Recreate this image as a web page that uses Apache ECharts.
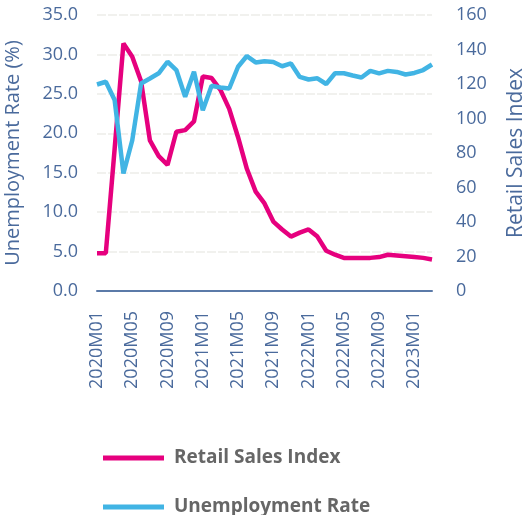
<!DOCTYPE html>
<html>
<head>
<meta charset="utf-8">
<script src="https://cdn.jsdelivr.net/npm/echarts@6/dist/echarts.min.js"></script>
<style>
html,body{margin:0;padding:0;background:#fff;}
#c{width:522px;height:515px;}
</style>
</head>
<body>
<div id="c"></div>
<script>
const categories = [
  "2020M01","2020M02","2020M03","2020M04","2020M05","2020M06","2020M07","2020M08","2020M09","2020M10","2020M11","2020M12",
  "2021M01","2021M02","2021M03","2021M04","2021M05","2021M06","2021M07","2021M08","2021M09","2021M10","2021M11","2021M12",
  "2022M01","2022M02","2022M03","2022M04","2022M05","2022M06","2022M07","2022M08","2022M09","2022M10","2022M11","2022M12",
  "2023M01","2023M02","2023M03"
];
const retailSalesIndex = [
  4.8, 4.8, 18.0, 31.4, 29.7, 26.6, 19.1, 17.1, 16.0, 20.2, 20.4, 21.5,
  27.2, 27.0, 25.5, 23.1, 19.5, 15.5, 12.6, 11.1, 8.8, 7.8, 6.9, 7.4,
  7.8, 6.9, 5.1, 4.6, 4.2, 4.2, 4.2, 4.2, 4.3, 4.6, 4.5, 4.4,
  4.3, 4.2, 4.0
];
const unemploymentRate = [
  119.7, 121.3, 110.7, 68.1, 87.4, 120.3, 123.2, 126.2, 132.9, 128.1, 112.6, 127.1,
  104.8, 119.0, 118.0, 117.4, 130.0, 136.2, 132.5, 133.2, 132.8, 130.3, 131.9, 124.1,
  122.6, 123.3, 120.0, 126.2, 126.2, 124.9, 123.8, 127.6, 126.2, 127.6, 127.0, 125.5,
  126.4, 128.1, 131.3
];
const leftTicks = { min: 0, max: 35, interval: 5 };
const rightTicks = { min: 0, max: 160, interval: 20 };

const axisColor = '#4a6a9c';
const font = "'Open Sans', 'Noto Sans', sans-serif";
const legendText = { fontFamily: font, fontSize: 19, fontWeight: 'bold', color: '#666666', lineHeight: 22, padding: [0, 0, 0, 5] };
const chart = echarts.init(document.getElementById('c'), null, { renderer: 'canvas' });
chart.setOption({
  animation: false,
  backgroundColor: '#ffffff',
  grid: { left: 97, right: 90, top: 15, bottom: 224, containLabel: false, outerBoundsMode: 'none' },
  legend: [
    {
      orient: 'vertical', left: 98, top: 442, icon: 'rect',
      itemWidth: 61, itemHeight: 5, textStyle: legendText,
      data: ['Retail Sales Index']
    },
    {
      orient: 'vertical', left: 98, top: 491, icon: 'rect',
      itemWidth: 61, itemHeight: 5, textStyle: legendText,
      data: ['Unemployment Rate']
    }
  ],
  xAxis: {
    type: 'category',
    data: categories,
    boundaryGap: false,
    axisLine: { lineStyle: { color: '#5b7aa8', width: 2 } },
    axisTick: { show: false },
    splitLine: { show: false },
    axisLabel: {
      interval: 3, rotate: 90, margin: 20,
      fontFamily: font, fontSize: 18, color: axisColor
    }
  },
  yAxis: [
    {
      type: 'value',
      min: leftTicks.min, max: leftTicks.max, interval: leftTicks.interval,
      name: 'Unemployment Rate (%)',
      nameLocation: 'middle',
      nameGap: 74,
      nameTextStyle: { fontFamily: font, fontSize: 20, color: axisColor },
      axisLine: { show: false },
      axisTick: { show: false },
      axisLabel: {
        margin: 19, fontFamily: font, fontSize: 18, color: axisColor,
        formatter: v => v.toFixed(1)
      },
      splitLine: { show: true, lineStyle: { color: '#f1f1ee', width: 2, type: [9, 2] } }
    },
    {
      type: 'value',
      min: rightTicks.min, max: rightTicks.max, interval: rightTicks.interval,
      name: 'Retail Sales Index',
      nameLocation: 'middle',
      nameGap: 74,
      nameTextStyle: { fontFamily: font, fontSize: 21, color: axisColor },
      axisLine: { show: false },
      axisTick: { show: false },
      axisLabel: { margin: 24, fontFamily: font, fontSize: 18, color: axisColor },
      splitLine: { show: false }
    }
  ],
  series: [
    {
      name: 'Retail Sales Index',
      type: 'line',
      yAxisIndex: 0,
      data: retailSalesIndex,
      showSymbol: false,
      symbol: 'none',
      lineStyle: { color: '#e6007e', width: 4.5 },
      itemStyle: { color: '#e6007e' }
    },
    {
      name: 'Unemployment Rate',
      type: 'line',
      yAxisIndex: 1,
      data: unemploymentRate,
      showSymbol: false,
      symbol: 'none',
      lineStyle: { color: '#41b4e4', width: 4.5 },
      itemStyle: { color: '#41b4e4' }
    }
  ]
});
</script>
</body>
</html>
